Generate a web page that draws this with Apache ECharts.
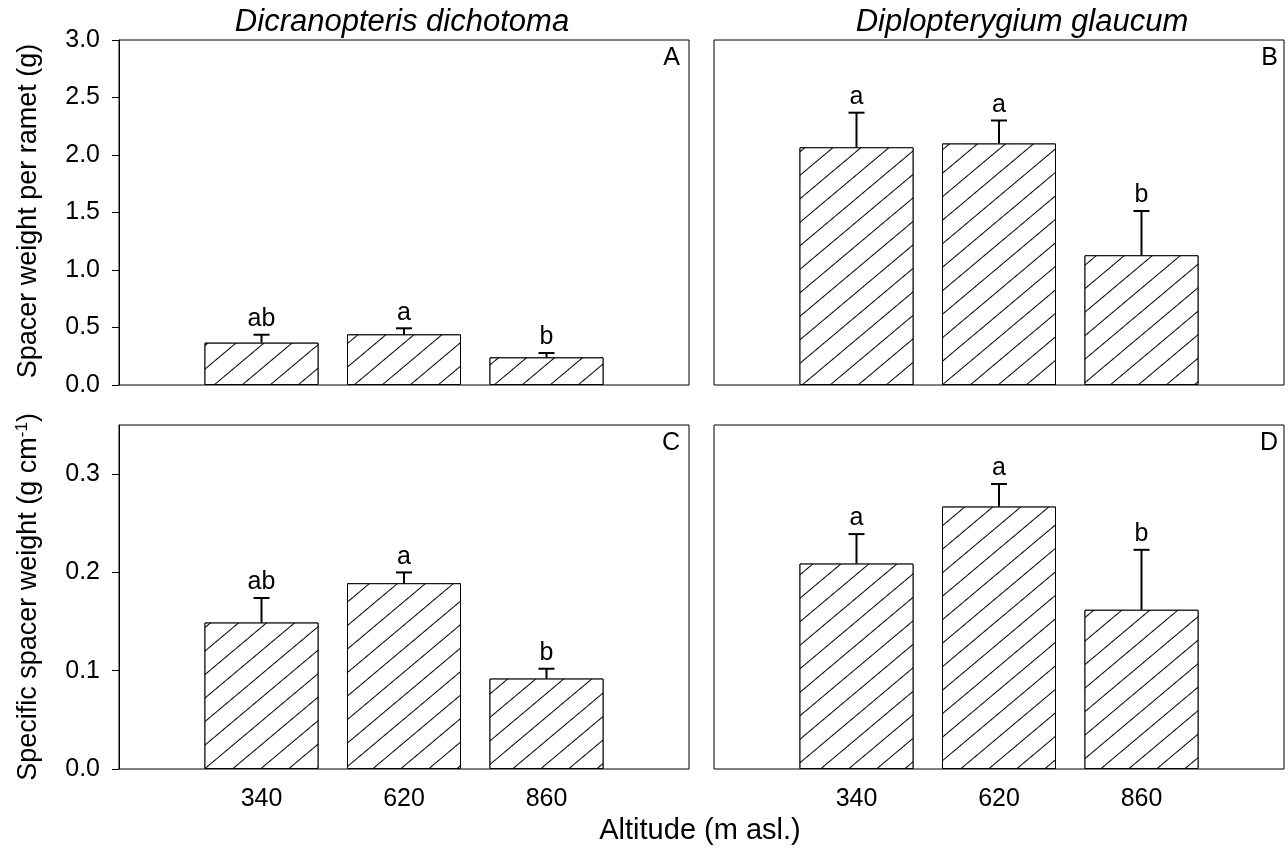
<!DOCTYPE html>
<html>
<head>
<meta charset="utf-8">
<script src="https://cdn.jsdelivr.net/npm/echarts@6/dist/echarts.min.js"></script>
<style>
  html, body { margin: 0; padding: 0; background: #fff; }
  #chart { width: 1288px; height: 849px; }
</style>
</head>
<body>
<div id="chart"></div>
<script>
// altitude classes, placed at x = 1, 2, 3 on a 0..4 axis
const altitudes = ['340', '620', '860'];
const positions = [1, 2, 3];

// A: Dicranopteris, spacer weight per ramet (g)
const meanA = [0.368, 0.44, 0.24];
const seA = [0.069, 0.053, 0.038];
const lettersA = ['ab', 'a', 'b'];
// B: Diplopterygium, spacer weight per ramet (g)
const meanB = [2.067, 2.10, 1.128];
const seB = [0.301, 0.20, 0.385];
const lettersB = ['a', 'a', 'b'];
// C: Dicranopteris, specific spacer weight (g cm-1)
const meanC = [0.149, 0.189, 0.092];
const seC = [0.025, 0.011, 0.010];
const lettersC = ['ab', 'a', 'b'];
// D: Diplopterygium, specific spacer weight (g cm-1)
const meanD = [0.209, 0.267, 0.162];
const seD = [0.030, 0.023, 0.061];
const lettersD = ['a', 'a', 'b'];

const FONT = 'Liberation Sans, Arial, sans-serif';

const chart = echarts.init(document.getElementById('chart'));

const grids = [
  { left: 119, top: 40, width: 570, height: 345 },
  { left: 714, top: 40, width: 570, height: 345 },
  { left: 119, top: 425, width: 570, height: 344 },
  { left: 714, top: 425, width: 570, height: 344 },
];
const panels = [
  { mean: meanA, se: seA, letters: lettersA, max: 3.0, step: 0.5, labels: true, xlab: false },
  { mean: meanB, se: seB, letters: lettersB, max: 3.0, step: 0.5, labels: false, xlab: false },
  { mean: meanC, se: seC, letters: lettersC, max: 0.35, step: 0.1, labels: true, xlab: true },
  { mean: meanD, se: seD, letters: lettersD, max: 0.35, step: 0.1, labels: false, xlab: true },
];

const xAxes = [], yAxes = [], series = [];

panels.forEach((p, i) => {
  xAxes.push({
    gridIndex: i,
    type: 'value',
    min: 0,
    max: 4,
    interval: 1,
    axisLine: { show: false },
    axisTick: { show: false },
    splitLine: { show: false },
    axisLabel: {
      show: p.xlab,
      margin: 18,
      fontSize: 25,
      fontFamily: FONT,
      color: '#000',
      formatter: v => {
        const k = positions.indexOf(v);
        return k >= 0 ? altitudes[k] : '';
      },
    },
  });
  yAxes.push({
    gridIndex: i,
    type: 'value',
    min: 0,
    max: p.max,
    interval: p.step,
    axisLine: { show: p.labels, lineStyle: { color: '#000', width: 1 } },
    axisTick: { show: p.labels, length: 7, lineStyle: { color: '#000' } },
    splitLine: { show: false },
    axisLabel: {
      show: p.labels,
      margin: 19,
      fontSize: 25,
      fontFamily: FONT,
      color: '#000',
      showMaxLabel: p.max === 3.0,
      formatter: v => v.toFixed(1),
    },
  });
  series.push({
    type: 'bar',
    xAxisIndex: i,
    yAxisIndex: i,
    barWidth: 114,
    data: positions.map((x, k) => [x, p.mean[k]]),
    itemStyle: {
      color: '#fff',
      borderColor: '#000',
      borderWidth: 1,
      decal: {
        symbol: 'rect',
        symbolSize: 1,
        dashArrayX: [1, 0],
        dashArrayY: [1, 17],
        rotation: -Math.PI / 4.5,
        color: '#000',
        backgroundColor: '#fff',
      },
    },
    z: 2,
    silent: true,
  });
  // upper error bar with significance letter
  series.push({
    type: 'custom',
    xAxisIndex: i,
    yAxisIndex: i,
    data: positions.map((x, k) => [x, p.mean[k], p.mean[k] + p.se[k], k]),
    z: 5,
    silent: true,
    renderItem: (params, api) => {
      const x = api.value(0);
      const p0 = api.coord([x, api.value(1)]);
      const p1 = api.coord([x, api.value(2)]);
      const letter = p.letters[api.value(3)];
      return {
        type: 'group',
        children: [
          { type: 'line', shape: { x1: p0[0], y1: p0[1], x2: p1[0], y2: p1[1] }, style: { stroke: '#000', lineWidth: 2 } },
          { type: 'line', shape: { x1: p1[0] - 8, y1: p1[1], x2: p1[0] + 8, y2: p1[1] }, style: { stroke: '#000', lineWidth: 2 } },
          { type: 'text', style: { text: letter, x: p1[0], y: p1[1] - 3, align: 'center', verticalAlign: 'bottom', fontSize: 25, fontFamily: FONT, fill: '#000' } },
        ],
      };
    },
  });
});

const label = (text, x, y, size, align) => ({
  type: 'text', x: x, y: y,
  style: { text: text, align: align || 'center', verticalAlign: 'middle', fontSize: size, fontFamily: FONT, fill: '#000' },
});

const option = {
  animation: false,
  backgroundColor: '#fff',
  grid: grids.map(g => Object.assign({ show: true, borderColor: '#000', borderWidth: 1, backgroundColor: 'transparent' }, g)),
  xAxis: xAxes,
  yAxis: yAxes,
  series: series,
  graphic: [
    { type: 'text', x: 402, y: 22, style: { text: 'Dicranopteris dichotoma', align: 'center', verticalAlign: 'middle', fontSize: 31, fontStyle: 'italic', fontFamily: FONT, fill: '#000' } },
    { type: 'text', x: 1022, y: 22, style: { text: 'Diplopterygium glaucum', align: 'center', verticalAlign: 'middle', fontSize: 31, fontStyle: 'italic', fontFamily: FONT, fill: '#000' } },
    label('A', 680, 58, 25, 'right'),
    label('B', 1278, 58, 25, 'right'),
    label('C', 680, 443, 25, 'right'),
    label('D', 1278, 443, 25, 'right'),
    label('Altitude (m asl.)', 700, 831, 29),
    Object.assign(label('Spacer weight per ramet (g)', 29, 211, 27), { rotation: Math.PI / 2 }),
    {
      type: 'text', x: 29, y: 597, rotation: Math.PI / 2,
      style: {
        text: 'Specific spacer weight (g cm{sup|-1})',
        align: 'center', verticalAlign: 'middle', fontSize: 27, fontFamily: FONT, fill: '#000',
        rich: { sup: { fontSize: 17, fontFamily: FONT, fill: '#000', padding: [0, 0, 14, 0] } },
      },
    },
  ],
};

chart.setOption(option);
</script>
</body>
</html>
